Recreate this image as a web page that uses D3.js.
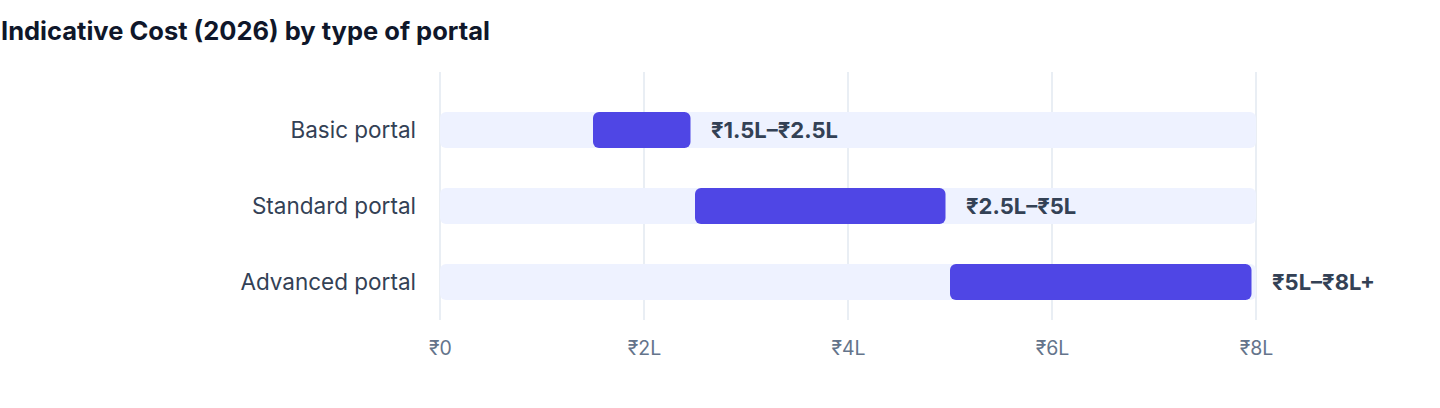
<!DOCTYPE html>
<html>
<head>
<meta charset="utf-8">
<script src="https://cdn.jsdelivr.net/npm/d3@7"></script>
<style>
  body { margin: 0; background: #fff; font-family: Inter, "Liberation Sans", Arial, sans-serif; }
</style>
</head>
<body>
<div id="chart"></div>
<script>
// data
const categories = ["Basic portal", "Standard portal", "Advanced portal"];
const lowValues = [1.5, 2.5, 5];
const highValues = [2.5, 5, 8];
const valueLabels = ["₹1.5L–₹2.5L", "₹2.5L–₹5L", "₹5L–₹8L+"];
const tickValues = [0, 2, 4, 6, 8];
const tickLabels = ["₹0", "₹2L", "₹4L", "₹6L", "₹8L"];

const width = 1440, height = 408;
const margin = {top: 72, left: 440, right: 184, bottom: 88};

const svg = d3.select("#chart")
  .append("svg")
  .attr("width", width)
  .attr("height", height);

// titel
svg.append("text")
  .attr("x", 1)
  .attr("y", 40)
  .attr("font-size", "25.5px")
  .attr("font-weight", "bold")
  .attr("fill", "#0f172a")
  .text("Indicative Cost (2026) by type of portal");

const x = d3.scaleLinear()
  .domain([0, 8])
  .range([margin.left, width - margin.right]);

const y = d3.scaleBand()
  .domain(categories)
  .range([74, 338])
  .paddingInner(0.526)
  .paddingOuter(0.5);

// gridlines
svg.append("g")
  .selectAll("line")
  .data(tickValues)
  .enter()
  .append("line")
    .attr("x1", d => x(d))
    .attr("x2", d => x(d))
    .attr("y1", margin.top)
    .attr("y2", height - margin.bottom)
    .attr("stroke", "#e2e8f0")
    .attr("stroke-width", 1.5);

const rows = svg.append("g")
  .selectAll("g")
  .data(categories)
  .enter()
  .append("g");

// baggrunds-spor
rows.append("rect")
  .attr("x", x(0))
  .attr("y", d => y(d))
  .attr("width", x(8) - x(0))
  .attr("height", y.bandwidth())
  .attr("rx", 6)
  .attr("fill", "#eef2ff");

// range bars
rows.append("rect")
  .attr("x", (d, i) => x(lowValues[i]))
  .attr("y", d => y(d))
  .attr("width", (d, i) => x(highValues[i]) - x(lowValues[i]) - 4.5)
  .attr("height", y.bandwidth())
  .attr("rx", 6)
  .attr("fill", "#4f46e5");

// værdi labels
rows.append("text")
  .attr("x", (d, i) => x(highValues[i]) + 16)
  .attr("y", d => y(d) + y.bandwidth() / 2)
  .attr("dy", "0.36em")
  .attr("font-size", "22px")
  .attr("font-weight", "bold")
  .attr("fill", "#334155")
  .text((d, i) => valueLabels[i]);

// kategori labels
rows.append("text")
  .attr("x", margin.left - 24)
  .attr("y", d => y(d) + y.bandwidth() / 2)
  .attr("dy", "0.36em")
  .attr("text-anchor", "end")
  .attr("font-size", "22.5px")
  .attr("fill", "#334155")
  .text(d => d);

// x akse
const xAxis = d3.axisBottom(x)
  .tickValues(tickValues)
  .tickFormat((d, i) => tickLabels[i])
  .tickSize(0)
  .tickPadding(21);

const axisG = svg.append("g")
  .attr("transform", "translate(0," + (height - margin.bottom) + ")")
  .call(xAxis);
axisG.select(".domain").remove();
axisG.selectAll("text")
  .attr("font-size", "19.5px")
  .attr("font-family", "Inter, Liberation Sans, Arial, sans-serif")
  .attr("fill", "#64748b");
</script>
</body>
</html>
